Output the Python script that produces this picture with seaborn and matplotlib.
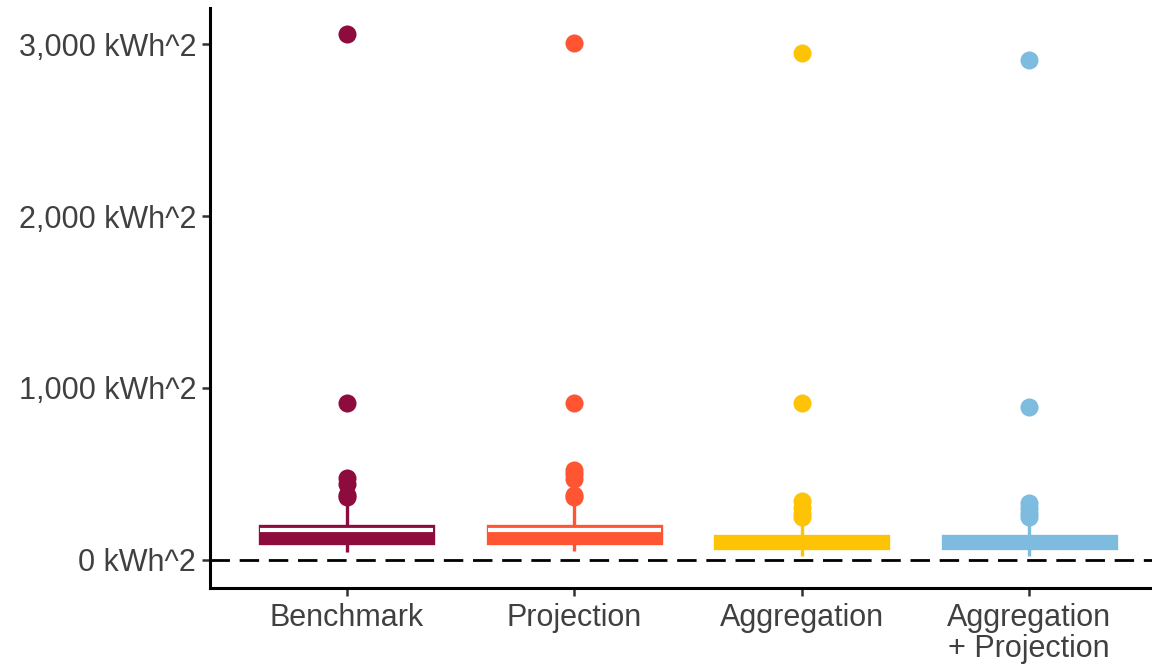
import pandas as pd
import seaborn as sns
import matplotlib.pyplot as plt

# squared error per run (kWh^2)
benchmark = [48, 60, 70, 78, 84, 88, 92, 94, 96, 105, 120, 135, 150, 160, 165, 170, 175,
             178, 181, 184, 187, 190, 192, 194, 196, 230, 333, 368, 380, 440, 479, 911, 3060]
projection = [50, 62, 72, 80, 86, 90, 93, 95, 97, 110, 125, 140, 152, 162, 168, 172, 176,
              180, 184, 188, 191, 193, 195, 196, 198, 333, 368, 375, 470, 500, 525, 910, 3010]
aggregation = [23, 35, 45, 52, 58, 62, 66, 68, 70, 75, 80, 85, 90, 95, 100, 105, 110,
               115, 120, 124, 128, 132, 135, 138, 140, 165, 210, 250, 265, 300, 340, 910, 2950]
agg_proj = [22, 34, 44, 50, 56, 60, 64, 67, 69, 74, 79, 84, 89, 94, 99, 104, 108,
            113, 118, 122, 126, 130, 133, 136, 139, 160, 205, 250, 270, 300, 330, 890, 2910]

methods = ['Benchmark', 'Projection', 'Aggregation', 'Aggregation\n+ Projection']
colors = ['#8E0B3D', '#FF5533', '#FFC305', '#7DBBDF']
yticks = [0, 1000, 2000, 3000]
ytick_labels = ['0 kWh^2', '1,000 kWh^2', '2,000 kWh^2', '3,000 kWh^2']

df = pd.concat([pd.DataFrame({'method': m, 'value': v})
                for m, v in zip(methods, [benchmark, projection, aggregation, agg_proj])])

sns.set_style('ticks')
plt.rcParams['font.family'] = ['Liberation Sans', 'DejaVu Sans']

fig = plt.figure(figsize=(11.52, 6.64), dpi=100)
ax = fig.add_axes([0.1823, 0.1145, 0.8177, 0.8735])

ax.axhline(0, color='black', lw=2, ls=(0, (7, 3.5)), zorder=0.5)

sns.boxplot(data=df, x='method', y='value', hue='method', order=methods, hue_order=methods,
            palette=colors, width=0.76, linewidth=2.4, showcaps=False, legend=False,
            flierprops=dict(marker='o', markersize=13, markeredgewidth=0), ax=ax)

# colour every part of each box like its fill; white median only on the first two
for i, c in enumerate(ax.containers):
    col = colors[i]
    for b in c.boxes:
        b.set_facecolor(col)
        b.set_edgecolor(col)
    for w in c.whiskers:
        w.set_color(col)
    for f in c.fliers:
        f.set_markerfacecolor(col)
        f.set_markeredgecolor(col)
    for m in c.medians:
        m.set_color('white' if i < 2 else col)
        m.set_linewidth(3)

ax.set_xlim(-0.60, 3.54)
ax.set_ylim(-164, 3212)
ax.set_yticks(yticks)
ax.set_yticklabels(ytick_labels)
ax.set_xlabel('')
ax.set_ylabel('')
ax.tick_params(axis='both', labelsize=22, labelcolor='#404040', color='#333333',
               length=6, width=1.8)
ax.tick_params(axis='y', pad=4)
ax.tick_params(axis='x', pad=5)
for t in ax.get_xticklabels():
    t.set_linespacing(1.05)

sns.despine(ax=ax)
ax.spines['left'].set_linewidth(2.2)
ax.spines['bottom'].set_linewidth(2.2)
ax.spines['left'].set_color('black')
ax.spines['bottom'].set_color('black')

fig.savefig('out.png', dpi=100)
